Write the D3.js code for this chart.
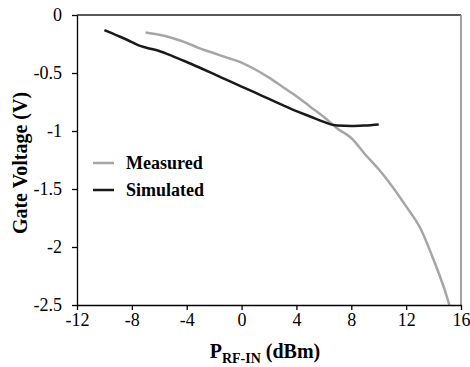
<!DOCTYPE html>
<html>
<head>
<meta charset="utf-8">
<script src="https://cdn.jsdelivr.net/npm/d3@7/dist/d3.min.js"></script>
<style>
  body { margin: 0; background: #fff; }
  svg { display: block; font-family: "Liberation Serif", "Times New Roman", serif; }
  .axis path, .axis line { stroke: #000; stroke-width: 1.3; }
  .axis text { font-size: 18px; fill: #000; }
</style>
</head>
<body>
<svg id="chart" width="470" height="367"></svg>
<script>
  // measured gate voltage vs input power
  var measuredX = [-7, -6, -5, -4, -3, -2, -1, 0, 1, 2, 3, 4, 5, 6, 7, 8, 9, 10, 11, 12, 13, 14, 15, 15.15];
  var measuredY = [-0.15, -0.17, -0.2, -0.24, -0.29, -0.33, -0.37, -0.41, -0.47, -0.54, -0.62, -0.7, -0.79, -0.88, -0.98, -1.06, -1.2, -1.33, -1.48, -1.65, -1.83, -2.11, -2.44, -2.5];

  // simulated
  var simulatedX = [-10, -9, -8, -7.5, -7, -6, -5, -4, -3, -2, -1, 0, 1, 2, 3, 4, 5, 6, 6.5, 7, 8, 9, 10];
  var simulatedY = [-0.13, -0.18, -0.233, -0.262, -0.28, -0.31, -0.356, -0.405, -0.457, -0.51, -0.564, -0.617, -0.67, -0.723, -0.776, -0.828, -0.875, -0.922, -0.943, -0.953, -0.957, -0.952, -0.943];

  var xTicks = [-12, -8, -4, 0, 4, 8, 12, 16];
  var yTicks = [0, -0.5, -1, -1.5, -2, -2.5];

  var margin = { left: 77, right: 9, top: 15, bottom: 62 },
      width = 470 - margin.left - margin.right,
      height = 367 - margin.top - margin.bottom;

  var svg = d3.select('#chart');
  var g = svg.append('g')
    .attr('transform', 'translate(' + margin.left + ',' + margin.top + ')');

  var x = d3.scaleLinear().domain([-12, 16]).range([0, width]);
  var y = d3.scaleLinear().domain([-2.5, 0]).range([height, 0]);

  // frame (top and right)
  g.append('line')
    .attr('x1', 0).attr('x2', width).attr('y1', 0).attr('y2', 0)
    .attr('stroke', '#222').attr('stroke-width', 1.3);
  g.append('line')
    .attr('x1', width).attr('x2', width).attr('y1', 0).attr('y2', height)
    .attr('stroke', '#8c8c8c').attr('stroke-width', 1.6);

  var line = d3.line()
    .x(function(d) { return x(d[0]); })
    .y(function(d) { return y(d[1]); })
    .curve(d3.curveMonotoneX);

  var measured = measuredX.map(function(v, i) { return [v, measuredY[i]]; });
  var simulated = simulatedX.map(function(v, i) { return [v, simulatedY[i]]; });

  g.append('path')
    .datum(measured)
    .attr('fill', 'none')
    .attr('stroke', '#a6a6a6')
    .attr('stroke-width', 2.5)
    .attr('d', line);

  g.append('path')
    .datum(simulated)
    .attr('fill', 'none')
    .attr('stroke', '#1a1a1a')
    .attr('stroke-width', 2.5)
    .attr('d', line);

  var xAxis = g.append('g')
    .attr('class', 'axis')
    .attr('transform', 'translate(0,' + height + ')')
    .call(d3.axisBottom(x).tickValues(xTicks).tickSize(5).tickSizeOuter(0)
      .tickFormat(function(d) { return d; }));
  xAxis.attr('font-family', null).attr('font-size', null);

  var yAxis = g.append('g')
    .attr('class', 'axis')
    .call(d3.axisLeft(y).tickValues(yTicks).tickSize(5).tickSizeOuter(0)
      .tickFormat(function(d) { return d; }));
  yAxis.attr('font-family', null).attr('font-size', null);
  yAxis.selectAll('text').attr('x', -15);

  // axis titles
  var xt = svg.append('text')
    .attr('x', 265)
    .attr('y', 358)
    .attr('text-anchor', 'middle')
    .attr('font-size', '20px')
    .attr('font-weight', 'bold');
  xt.append('tspan').text('P');
  xt.append('tspan').attr('font-size', '14px').attr('dy', 5).text('RF-IN');
  xt.append('tspan').attr('dy', -5).text(' (dBm)');

  svg.append('text')
    .attr('transform', 'translate(27,' + (margin.top + height / 2 + 3) + ') rotate(-90)')
    .attr('text-anchor', 'middle')
    .attr('font-size', '20px')
    .attr('font-weight', 'bold')
    .text('Gate Voltage (V)');

  // legend
  var legend = [
    { name: 'Measured', color: '#a6a6a6' },
    { name: 'Simulated', color: '#1a1a1a' }
  ];
  var lg = svg.append('g').attr('transform', 'translate(93,163)');
  var item = lg.selectAll('g').data(legend).enter().append('g')
    .attr('transform', function(d, i) { return 'translate(0,' + (i * 27) + ')'; });
  item.append('line')
    .attr('x1', 0).attr('x2', 21).attr('y1', 0).attr('y2', 0)
    .attr('stroke', function(d) { return d.color; })
    .attr('stroke-width', 2.5);
  item.append('text')
    .attr('x', 33)
    .attr('y', 6)
    .attr('font-size', '18px')
    .attr('font-weight', 'bold')
    .text(function(d) { return d.name; });
</script>
</body>
</html>
